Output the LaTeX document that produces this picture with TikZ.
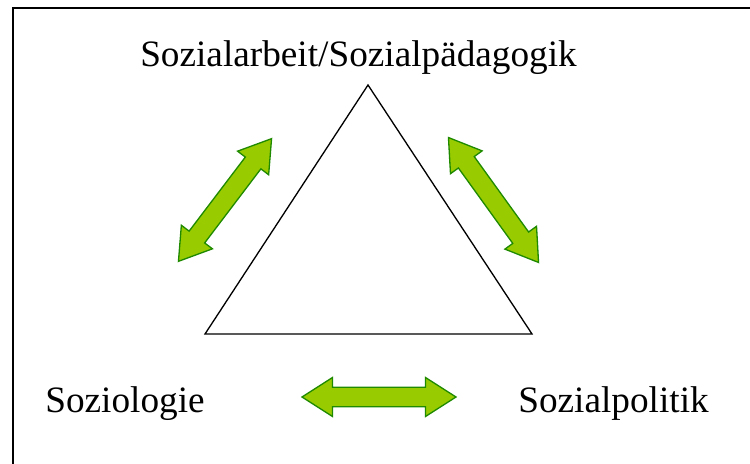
\documentclass[tikz,border=0pt]{standalone}
\usepackage{fontspec}
\setmainfont{Liberation Serif}
\definecolor{pfeilgruen}{HTML}{99CC00}
\definecolor{pfeilrand}{HTML}{1F8A00}
\tikzset{
  fach/.style={inner sep=0pt, font=\fontsize{21.2}{25}\selectfont},
  pfeil/.style={fill=pfeilgruen, draw=pfeilrand, line width=0.75pt, line join=miter},
  doppelpfeil/.pic={
    \filldraw[pfeil] (-77,0) -- (-46.5,19.5) -- (-46.5,9.75) -- (46.5,9.75)
      -- (46.5,19.5) -- (77,0) -- (46.5,-19.5) -- (46.5,-9.75)
      -- (-46.5,-9.75) -- (-46.5,-19.5) -- cycle;
  }
}
\begin{document}
\begin{tikzpicture}[x=0.02cm, y=0.02cm]
    \useasboundingbox (0,0) rectangle (750,463);
    \clip (0,0) rectangle (750,463);
    % Rahmen
    \draw[line width=0.85pt] (13,-20) rectangle (770,455);

    % Dreieck
    \coordinate (spitze) at (368,378);
    \coordinate (links) at (205,129);
    \coordinate (rechts) at (532,129);
    \draw[line width=0.75pt] (spitze) -- (links) -- (rechts) -- cycle;

    % Disziplinen
    \node[fach, anchor=base] (sozarb) at (358.5,396) {Sozialarbeit/Sozialpädagogik};
    \node[fach, anchor=base west] (soziol) at (45,51) {Soziologie};
    \node[fach, anchor=base west] (sozpol) at (518,51) {Sozialpolitik};

    % Wechselwirkungen
    \pic[rotate=52.8] at (225,263) {doppelpfeil};
    \pic[rotate=-54.2] at (493.5,263) {doppelpfeil};
    \pic at (379,66) {doppelpfeil};
  \end{tikzpicture}
\end{document}
